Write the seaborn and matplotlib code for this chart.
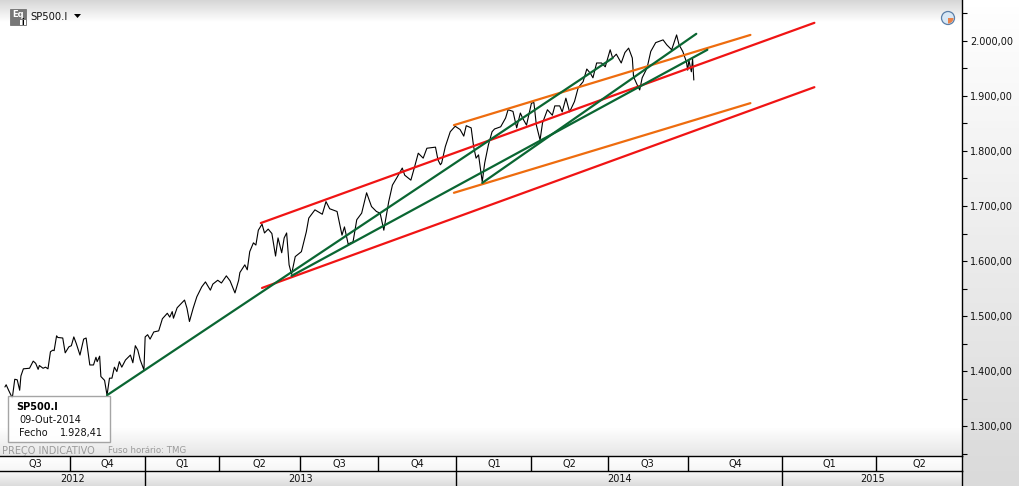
import numpy as np
import pandas as pd
import matplotlib
matplotlib.use('Agg')
import matplotlib.pyplot as plt
import seaborn as sns
from matplotlib.colors import LinearSegmentedColormap
from matplotlib.patches import Circle, Polygon, Rectangle, Wedge
from matplotlib.ticker import FuncFormatter, MultipleLocator

# SP500 closes, x = trading session counted from the left edge
sessions = [4, 5, 7, 10, 12, 14, 16, 17, 19, 24, 27, 29, 31, 32, 35, 37, 39, 41, 43, 44,
            46, 47, 51, 53, 56, 58, 60, 62, 65, 68, 70, 73, 76, 78, 79, 81, 82, 85, 87, 89,
            91, 93, 95, 97, 99, 102, 106, 108, 110, 112, 114, 117, 118, 120, 122, 125, 129, 132, 136, 138,
            140, 141, 144, 150, 152, 154, 157, 160, 164, 167, 171, 173, 177, 180, 184, 187, 191, 194, 195, 199,
            201, 203, 206, 208, 210, 213, 215, 218, 221, 224, 226, 229, 231, 233, 235, 237, 240, 245, 249, 251,
            256, 262, 265, 268, 274, 278, 280, 283, 287, 290, 294, 298, 302, 306, 309, 312, 316, 319, 323, 327,
            329, 334, 337, 340, 344, 347, 354, 356, 358, 359, 362, 366, 370, 374, 377, 379, 383, 385, 387, 389,
            392, 394, 397, 400, 402, 407, 411, 413, 417, 420, 423, 425, 428, 432, 434, 436, 439, 441, 445, 449,
            451, 455, 457, 460, 463, 467, 470, 474, 477, 480, 482, 485, 489, 492, 496, 498, 501, 505, 508, 511,
            514, 515, 518, 520, 522, 526, 529, 533, 539, 542, 546, 550, 552, 555, 558, 559, 560, 562, 563, 564]
closes = [1371, 1375, 1365, 1351, 1385, 1384, 1365, 1391, 1404, 1405, 1418, 1414, 1403, 1410, 1405, 1407, 1404, 1435, 1438, 1437,
          1464, 1461, 1460, 1433, 1444, 1446, 1462, 1450, 1429, 1458, 1460, 1411, 1411, 1425, 1417, 1427, 1390, 1383, 1356, 1387,
          1387, 1407, 1399, 1417, 1407, 1420, 1429, 1415, 1446, 1438, 1420, 1402, 1462, 1466, 1458, 1471, 1473, 1495, 1505, 1498,
          1508, 1496, 1515, 1529, 1514, 1490, 1514, 1535, 1553, 1562, 1547, 1558, 1565, 1560, 1573, 1564, 1542, 1565, 1579, 1593,
          1584, 1617, 1633, 1629, 1656, 1667, 1651, 1658, 1650, 1609, 1642, 1615, 1642, 1651, 1593, 1576, 1608, 1617, 1653, 1678,
          1693, 1685, 1708, 1695, 1690, 1647, 1662, 1631, 1635, 1675, 1687, 1724, 1699, 1690, 1687, 1656, 1708, 1738, 1753, 1769,
          1756, 1747, 1771, 1796, 1787, 1805, 1807, 1784, 1775, 1778, 1808, 1835, 1845, 1839, 1827, 1846, 1842, 1808, 1787, 1793,
          1744, 1778, 1811, 1835, 1840, 1844, 1860, 1875, 1872, 1842, 1869, 1859, 1847, 1887, 1888, 1847, 1820, 1851, 1875, 1865,
          1882, 1882, 1871, 1896, 1871, 1890, 1915, 1926, 1949, 1941, 1933, 1960, 1960, 1953, 1984, 1969, 1976, 1960, 1979, 1987,
          1969, 1935, 1920, 1911, 1933, 1951, 1981, 1997, 2002, 1993, 1984, 2011, 1993, 1981, 1962, 1947, 1965, 1944, 1967, 1929]

# trend lines: two sessions and the prices there
red_top_s, red_top_p = [212, 662], [1669, 2033]
red_low_s, red_low_p = [213, 662], [1551, 1916]
orange_top_s, orange_top_p = [369, 610], [1847, 2011]
orange_low_s, orange_low_p = [369, 610], [1724, 1887]
green_a_s, green_a_p = [87, 498], [1356, 1969]
green_b_s, green_b_p = [237, 575], [1573, 1984]
green_c_s, green_c_p = [392, 566], [1742, 2013]

# time bands under the chart
quarter_labels = ['Q3', 'Q4', 'Q1', 'Q2', 'Q3', 'Q4', 'Q1', 'Q2', 'Q3', 'Q4', 'Q1', 'Q2']
quarter_edges = [0, 57, 118, 178, 244, 307, 371, 432, 494, 559, 636, 712, 782]
year_labels = ['2012', '2013', '2014', '2015']
year_edges = [0, 118, 371, 636, 782]

W, H = 1020, 486
RED, ORANGE, GREEN = '#f01414', '#ee6c0e', '#0a6632'

sns.set_style('white')
plt.rcParams['font.family'] = ['DejaVu Sans']
plt.rcParams['font.size'] = 7

fig = plt.figure(figsize=(W / 100, H / 100), dpi=100, facecolor='white')


def box(x0, y0, x1, y1, **kw):
    # axes rectangle given in picture pixels
    return fig.add_axes([x0 / W, 1 - y1 / H, (x1 - x0) / W, (y1 - y0) / H], **kw)


def gradient(x0, y0, x1, y1, top, bottom):
    a = box(x0, y0, x1, y1, zorder=0)
    cm = LinearSegmentedColormap.from_list('g', [top, bottom])
    a.imshow(np.linspace(0, 1, 64).reshape(-1, 1), cmap=cm, aspect='auto')
    a.axis('off')


gradient(0, 0, 962, 22, '#d6d6d6', '#ffffff')
gradient(0, 428, 962, 456, '#ffffff', '#e6e6e6')
gradient(962, 0, W, H, '#ffffff', '#dadada')
gradient(0, 456, 962, 471, '#ffffff', '#f6f6f6')
gradient(0, 471, 962, H, '#fbfbfb', '#dcdcdc')

ax = box(0, 0, 962, 456, zorder=2)
ax.patch.set_visible(False)

df = pd.DataFrame({'session': sessions, 'close': closes})
sns.lineplot(data=df, x='session', y='close', color='black', lw=0.8, ax=ax, estimator=None, sort=False)

trends = [(red_top_s, red_top_p, RED), (red_low_s, red_low_p, RED),
          (orange_top_s, orange_top_p, ORANGE), (orange_low_s, orange_low_p, ORANGE),
          (green_a_s, green_a_p, GREEN), (green_b_s, green_b_p, GREEN), (green_c_s, green_c_p, GREEN)]
for s, p, c in trends:
    sns.lineplot(x=s, y=p, color=c, lw=1.6, ax=ax, estimator=None)

ax.set_xlim(0, 782)
ax.set_ylim(1245.5, 2074.5)
ax.set_xlabel('')
ax.set_ylabel('')
ax.set_xticks([])
ax.yaxis.tick_right()
ax.yaxis.set_major_locator(MultipleLocator(100))
ax.yaxis.set_minor_locator(MultipleLocator(50))
ax.yaxis.set_major_formatter(FuncFormatter(lambda v, _: f'{v:,.2f}'.replace(',', '#').replace('.', ',').replace('#', '.')))
ax.tick_params(axis='y', which='major', length=3.6, width=0.8, color='black', pad=2, labelsize=7, labelcolor='#111111', right=True)
ax.tick_params(axis='y', which='minor', length=3.6, width=0.8, color='black', right=True)
for side in ['top', 'left', 'bottom']:
    ax.spines[side].set_visible(False)
ax.spines['right'].set_linewidth(1.0)
ax.spines['right'].set_color('black')

# quarter and year strips
for y0, y1, edges, labels in [(456, 471, quarter_edges, quarter_labels), (471, H, year_edges, year_labels)]:
    b = box(0, y0, 962, y1, zorder=2)
    b.patch.set_visible(False)
    b.set_xlim(0, 782)
    b.set_ylim(0, 1)
    b.set_xticks([])
    b.set_yticks([])
    for side in ['left', 'bottom']:
        b.spines[side].set_visible(False)
    for side in ['top', 'right']:
        b.spines[side].set_linewidth(1.0)
        b.spines[side].set_color('black')
    for e in edges[1:-1]:
        b.axvline(e, color='black', lw=1.0)
    for i, lab in enumerate(labels):
        b.text((edges[i] + edges[i + 1]) / 2, 0.46, lab, ha='center', va='center', fontsize=7, color='#111111')

# overlay in picture pixels: header, tooltip, footer
top = fig.add_axes([0, 0, 1, 1], zorder=5)
top.patch.set_visible(False)
top.set_xlim(0, W)
top.set_ylim(H, 0)
top.axis('off')

top.add_patch(Rectangle((10, 9), 16, 16, fc='#777777', ec='#666666', lw=0.5))
top.add_patch(Rectangle((20, 20), 6, 5, fc='white', ec='none'))
top.text(12, 14.5, 'Eq', color='white', fontsize=6, va='center', fontweight='bold')
top.text(22.5, 22.5, 'i', color='black', fontsize=5.5, va='center', ha='center', fontweight='bold')
top.text(30, 17, 'SP500.I', color='#111111', fontsize=7.2, va='center')
top.add_patch(Polygon([(74, 14), (81, 14), (77.5, 18)], fc='black', ec='none'))

top.add_patch(Circle((948, 18), 6.5, fc='#d8e8f6', ec='#5b7fa8', lw=0.9))
top.add_patch(Wedge((948, 18), 5.5, 0, 90, fc='#e9824a', ec='none'))

top.add_patch(Rectangle((8.5, 395.5), 101.5, 46, fc='white', ec='#999999', lw=1.0, alpha=0.88))
top.text(16, 407, 'SP500.I', color='black', fontsize=7, fontweight='bold', va='center')
top.text(19, 420, '09-Out-2014', color='#111111', fontsize=7, va='center')
top.text(19, 433, 'Fecho', color='#111111', fontsize=7, va='center')
top.text(103, 433, '1.928,41', color='#111111', fontsize=7, va='center', ha='right')

top.text(2, 450.5, 'PREÇO INDICATIVO', color='#9a9a9a', fontsize=7, va='center')
top.text(108, 450.5, 'Fuso horário: TMG', color='#9a9a9a', fontsize=6.2, va='center')

fig.savefig('out.png', dpi=100)
